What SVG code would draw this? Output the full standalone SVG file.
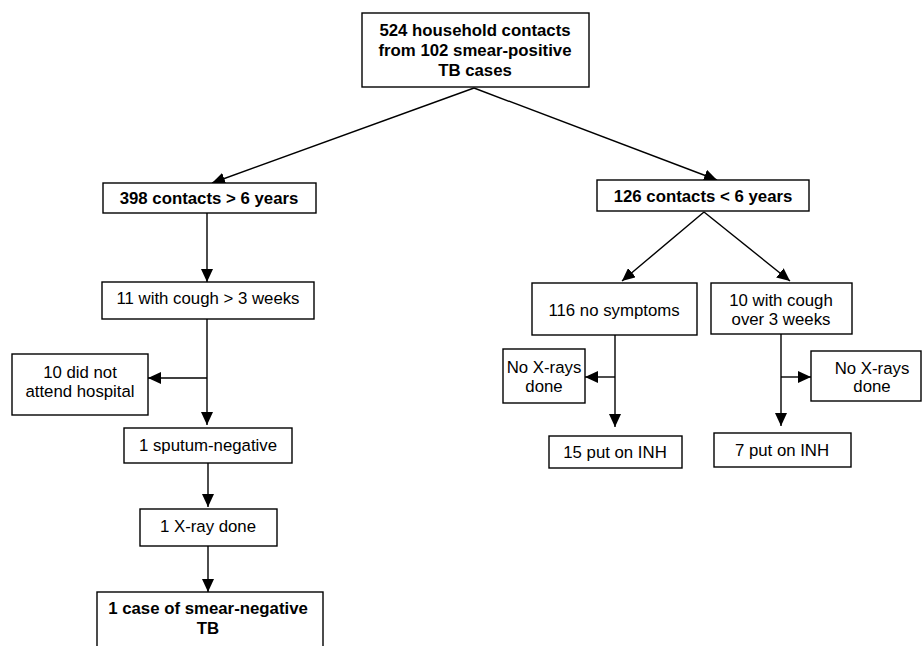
<svg xmlns="http://www.w3.org/2000/svg" width="922" height="646" viewBox="0 0 922 646">
<style>
.box{fill:#fff;stroke:#000;stroke-width:1.4}
.t{font-family:"Liberation Sans",Arial,sans-serif;font-size:16.8px;text-anchor:middle;fill:#000}
.b{font-weight:bold;font-size:16.8px}
.c{fill:none;stroke:#000;stroke-width:1.4}
</style>
<defs>
<marker id="ah" markerUnits="userSpaceOnUse" markerWidth="13" markerHeight="12" refX="13" refY="6" orient="auto">
<path d="M0,0 L13,6 L0,12 z" fill="#000"/>
</marker>
</defs>
<rect width="922" height="646" fill="#fff"/>
<g id="connectors">
<path class="c" d="M474,88 L212,183" marker-end="url(#ah)"/>
<path class="c" d="M474,88 L717,180" marker-end="url(#ah)"/>
<path class="c" d="M207,213 L207,282" marker-end="url(#ah)"/>
<path class="c" d="M207,319 L207,425" marker-end="url(#ah)"/>
<path class="c" d="M207,378 L148,378" marker-end="url(#ah)"/>
<path class="c" d="M208,463 L208,507" marker-end="url(#ah)"/>
<path class="c" d="M208,546 L208,592" marker-end="url(#ah)"/>
<path class="c" d="M704,212 L622,281" marker-end="url(#ah)"/>
<path class="c" d="M704,212 L790,281" marker-end="url(#ah)"/>
<path class="c" d="M615,335 L615,427" marker-end="url(#ah)"/>
<path class="c" d="M615,377 L585,377" marker-end="url(#ah)"/>
<path class="c" d="M781,334 L781,426" marker-end="url(#ah)"/>
<path class="c" d="M781,377 L811,377" marker-end="url(#ah)"/>
</g>
<g id="n-top">
<rect class="box" x="362" y="13" width="227" height="74"/>
<text class="t b" x="475" y="36">524 household contacts</text>
<text class="t b" x="475" y="56">from 102 smear-positive</text>
<text class="t b" x="475" y="76">TB cases</text>
</g>
<g id="n-398">
<rect class="box" x="103" y="183" width="213" height="30"/>
<text class="t b" x="209" y="204">398 contacts &gt; 6 years</text>
</g>
<g id="n-11">
<rect class="box" x="102" y="282" width="212" height="37"/>
<text class="t" x="208" y="304">11 with cough &gt; 3 weeks</text>
</g>
<g id="n-10did">
<rect class="box" x="12" y="354" width="136" height="61"/>
<text class="t" x="80" y="378">10 did not</text>
<text class="t" x="80" y="397">attend hospital</text>
</g>
<g id="n-sputum">
<rect class="box" x="124" y="428" width="168" height="35"/>
<text class="t" x="208" y="451">1 sputum-negative</text>
</g>
<g id="n-xray">
<rect class="box" x="140" y="509" width="137" height="37"/>
<text class="t" x="208" y="532">1 X-ray done</text>
</g>
<g id="n-case">
<rect class="box" x="97" y="592" width="226" height="60"/>
<text class="t b" x="208" y="614">1 case of smear-negative</text>
<text class="t b" x="208" y="634">TB</text>
</g>
<g id="n-126">
<rect class="box" x="597" y="180" width="212" height="31"/>
<text class="t b" x="703" y="202">126 contacts &lt; 6 years</text>
</g>
<g id="n-116">
<rect class="box" x="532" y="283" width="165" height="52"/>
<text class="t" x="614" y="316">116 no symptoms</text>
</g>
<g id="n-10cough">
<rect class="box" x="711" y="283" width="141" height="51"/>
<text class="t" x="781" y="306">10 with cough</text>
<text class="t" x="781" y="325">over 3 weeks</text>
</g>
<g id="n-noxray-l">
<rect class="box" x="503" y="349" width="82" height="54"/>
<text class="t" x="544" y="373">No X-rays</text>
<text class="t" x="544" y="392">done</text>
</g>
<g id="n-15inh">
<rect class="box" x="549" y="436" width="133" height="32"/>
<text class="t" x="615" y="458">15 put on INH</text>
</g>
<g id="n-noxray-r">
<rect class="box" x="811" y="351" width="110" height="50"/>
<text class="t" x="872" y="374">No X-rays</text>
<text class="t" x="872" y="392">done</text>
</g>
<g id="n-7inh">
<rect class="box" x="714" y="433" width="137" height="34"/>
<text class="t" x="782" y="456">7 put on INH</text>
</g>
</svg>
